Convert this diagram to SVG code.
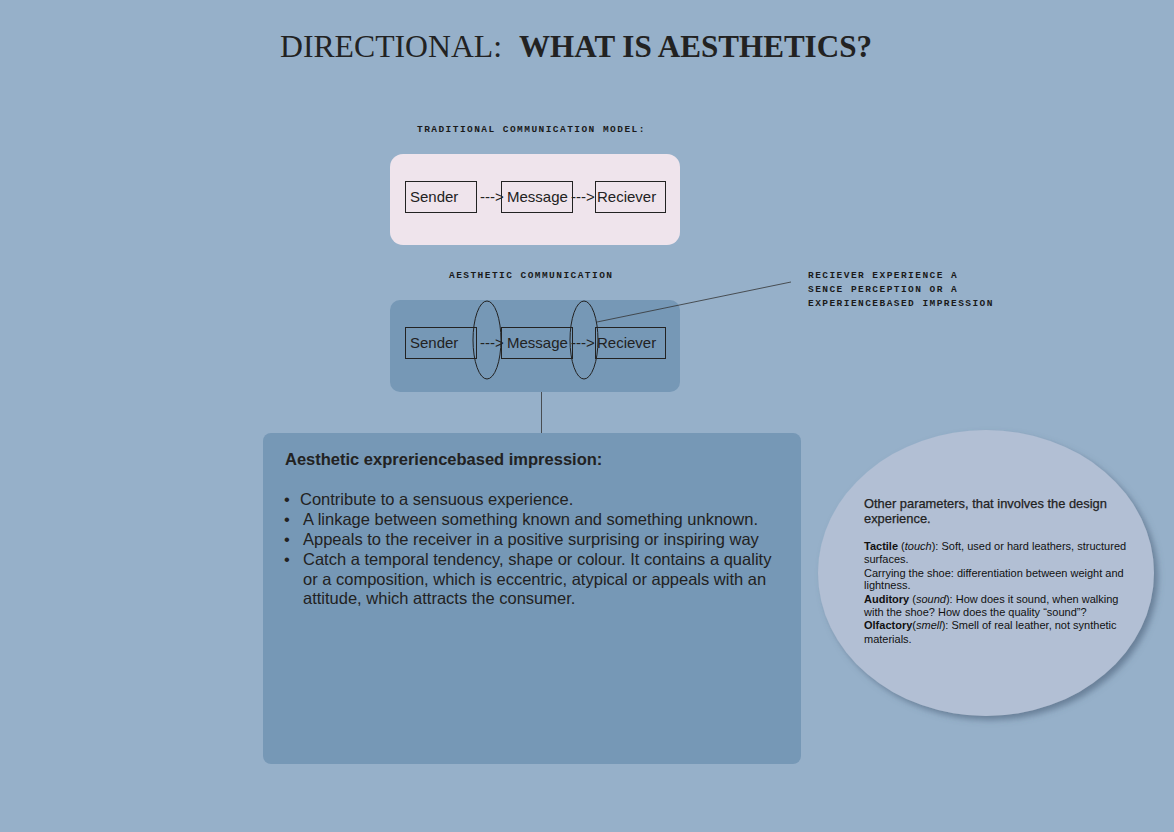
<svg xmlns="http://www.w3.org/2000/svg" width="1174" height="832" viewBox="0 0 1174 832">
<defs>
<style>
.mono{font-family:"Liberation Mono","DejaVu Sans Mono",monospace;font-size:9.5px;font-weight:bold;letter-spacing:1.45px;fill:#1a1a1a}
.box{fill:none;stroke:#222;stroke-width:1}
.lbl{font-family:"Liberation Sans",Arial,sans-serif;font-size:15px;fill:#222}
.body{font-family:"Liberation Sans",Arial,sans-serif;font-size:16.5px;fill:#222}
.sm{font-family:"Liberation Sans",Arial,sans-serif;font-size:11px;fill:#111}
.hd{font-family:"Liberation Sans",Arial,sans-serif;font-size:12.9px;fill:#222;stroke:#222;stroke-width:0.25}
.line{stroke:#333;stroke-width:0.8;fill:none}
</style>
<filter id="sh" x="-10%" y="-10%" width="130%" height="130%">
<feGaussianBlur in="SourceAlpha" stdDeviation="3"/>
<feOffset dx="4" dy="4" result="b"/>
<feFlood flood-color="#4a5f78" flood-opacity="0.6"/>
<feComposite in2="b" operator="in"/>
<feMerge><feMergeNode/><feMergeNode in="SourceGraphic"/></feMerge>
</filter>
</defs>
<rect width="1174" height="832" fill="#96b0c9"/>
<g id="title">
<text x="280" y="57" font-family="Liberation Serif,serif" font-size="31" fill="#222" textLength="222" lengthAdjust="spacingAndGlyphs">DIRECTIONAL:</text>
<text x="519" y="57" font-family="Liberation Serif,serif" font-size="31" font-weight="bold" fill="#222" textLength="353" lengthAdjust="spacingAndGlyphs">WHAT IS AESTHETICS?</text>
</g>
<g id="traditional">
<text class="mono" x="417" y="132">TRADITIONAL COMMUNICATION MODEL:</text>
<rect x="390" y="154" width="290" height="91" rx="13" fill="#efe4ec"/>
<rect class="box" x="405.5" y="181.5" width="71" height="31"/>
<text class="lbl" x="410" y="202">Sender</text>
<rect class="box" x="501.5" y="181.5" width="71" height="31"/>
<text class="lbl" x="507" y="202">Message</text>
<rect class="box" x="595.5" y="181.5" width="70" height="31"/>
<text class="lbl" x="597" y="202">Reciever</text>
<text class="lbl" x="480" y="202" font-size="13">---&gt;</text>
<text class="lbl" x="571" y="202" font-size="13">---&gt;</text>
</g>
<g id="aesthetic">
<text class="mono" x="449" y="278">AESTHETIC COMMUNICATION</text>
<rect x="390" y="300" width="290" height="92" rx="10" fill="#7698b6"/>
<rect class="box" x="405.5" y="327.5" width="71" height="31"/>
<text class="lbl" x="410" y="348">Sender</text>
<rect class="box" x="501.5" y="327.5" width="71" height="31"/>
<text class="lbl" x="507" y="348">Message</text>
<rect class="box" x="595.5" y="327.5" width="70" height="31"/>
<text class="lbl" x="597" y="348">Reciever</text>
<text class="lbl" x="480" y="348" font-size="13">---&gt;</text>
<text class="lbl" x="571" y="348" font-size="13">---&gt;</text>
<ellipse class="box" cx="487" cy="340" rx="14" ry="39"/>
<ellipse class="box" cx="584" cy="340" rx="14" ry="39"/>
</g>
<g id="note">
<text class="mono" x="808" y="278">RECIEVER EXPERIENCE A</text>
<text class="mono" x="808" y="292">SENCE PERCEPTION OR A</text>
<text class="mono" x="808" y="306">EXPERIENCEBASED IMPRESSION</text>
</g>
<g id="connectors">
<line class="line" x1="597" y1="322" x2="791" y2="282"/>
<line class="line" x1="541.5" y1="392" x2="541.5" y2="433"/>
</g>
<g id="impression">
<rect x="263" y="433" width="538" height="331" rx="8" fill="#7698b6"/>
<text class="body" x="285" y="465" font-weight="bold">Aesthetic expreriencebased impression:</text>
<text class="body" x="284" y="505">•</text>
<text class="body" x="300" y="505">Contribute to a sensuous experience.</text>
<text class="body" x="284" y="525">•</text>
<text class="body" x="303" y="525">A linkage between something known and something unknown.</text>
<text class="body" x="284" y="545">•</text>
<text class="body" x="303" y="545">Appeals to the receiver in a positive surprising or inspiring way</text>
<text class="body" x="284" y="565">•</text>
<text class="body" x="303" y="565">Catch a temporal tendency, shape or colour. It contains a quality</text>
<text class="body" x="303" y="585">or a composition, which is eccentric, atypical or appeals with an</text>
<text class="body" x="303" y="604">attitude, which attracts the consumer.</text>
</g>
<g id="parameters">
<ellipse cx="986" cy="573" rx="168" ry="143" fill="#b2bfd4" filter="url(#sh)"/>
<text class="hd" x="864" y="508">Other parameters, that involves the design</text>
<text class="hd" x="864" y="523">experience.</text>
<text class="sm" x="864" y="550"><tspan font-weight="bold">Tactile</tspan> (<tspan font-style="italic">touch</tspan>): Soft, used or hard leathers, structured</text>
<text class="sm" x="864" y="563">surfaces.</text>
<text class="sm" x="864" y="577">Carrying the shoe: differentiation between weight and</text>
<text class="sm" x="864" y="589">lightness.</text>
<text class="sm" x="864" y="603"><tspan font-weight="bold">Auditory</tspan> (<tspan font-style="italic">sound</tspan>): How does it sound, when walking</text>
<text class="sm" x="864" y="616">with the shoe? How does the quality “sound”?</text>
<text class="sm" x="864" y="629"><tspan font-weight="bold">Olfactory</tspan>(<tspan font-style="italic">smell</tspan>): Smell of real leather, not synthetic</text>
<text class="sm" x="864" y="643">materials.</text>
</g>
</svg>
